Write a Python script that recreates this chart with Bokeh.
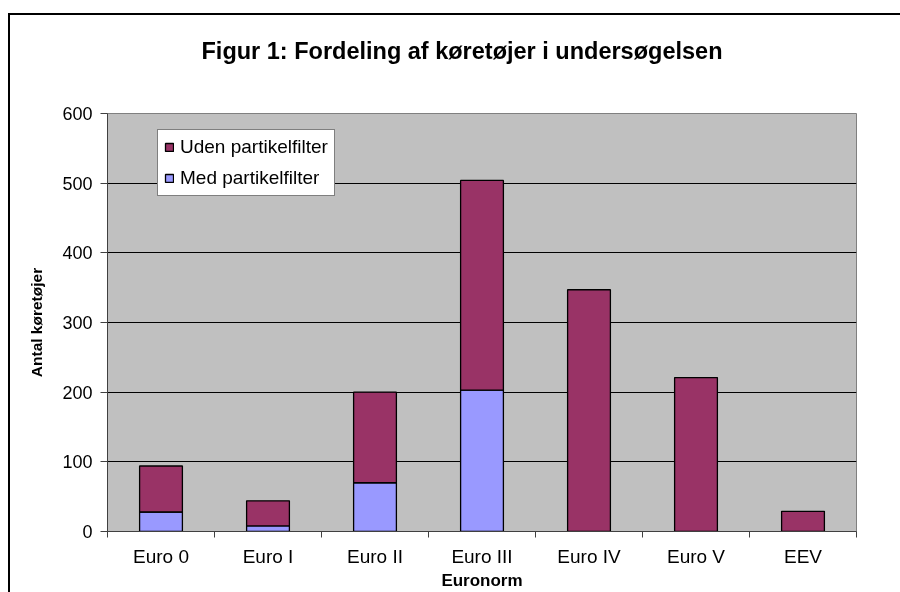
from bokeh.plotting import figure
from bokeh.models import (Range1d, FixedTicker, Legend, LegendItem, ColumnDataSource, Title)
from bokeh.embed import file_html
from bokeh.resources import INLINE

categories = ["Euro 0", "Euro I", "Euro II", "Euro III", "Euro IV", "Euro V", "EEV"]
med_filter = [28, 8, 70, 203, 0, 0, 0]
uden_filter = [66, 36, 130, 301, 347, 221, 29]
y_ticks = [0, 100, 200, 300, 400, 500, 600]

title_text = "Figur 1: Fordeling af køretøjer i undersøgelsen"
x_label = "Euronorm"
y_label = "Antal køretøjer"
series_names = ["Med partikelfilter", "Uden partikelfilter"]
colors = ["#9999FF", "#993366"]

n = len(categories)
xs = [i + 0.5 for i in range(n)]
source = ColumnDataSource(dict(x=xs, med=med_filter, uden=uden_filter))

p = figure(width=898, height=580, output_backend="svg", toolbar_location=None, tools="",
           x_range=Range1d(0, n), y_range=Range1d(0, 600),
           min_border_left=97, min_border_top=98, min_border_right=52, min_border_bottom=64,
           background_fill_color="#C0C0C0", border_fill_color="white",
           outline_line_color="#808080", outline_line_width=1)
p.toolbar.logo = None
p.styles = {"position": "fixed", "left": "10px", "top": "15px",
            "box-shadow": "-2px -2px 0px 0px black"}

r = p.vbar_stack(["med", "uden"], x="x", width=0.4, source=source, color=colors,
                 line_color="black", line_width=1.3)

# spacer between title and plot area
p.add_layout(Title(text=" ", text_font_size="10px", standoff=35), "above")

# Title
p.title.text = title_text
p.title.text_font = "Liberation Sans"
p.title.text_font_size = "23.5px"
p.title.text_font_style = "bold"
p.title.text_color = "black"
p.title.align = "left"
p.title.vertical_align = "top"
p.title.offset = 94
p.title.standoff = 0

# X axis
xa = p.xaxis[0]
xa.ticker = FixedTicker(ticks=xs, minor_ticks=list(range(n + 1)))
xa.major_label_overrides = {x: c for x, c in zip(xs, categories)}
xa.major_tick_line_color = None
xa.major_tick_out = 6
xa.major_tick_in = 0
xa.minor_tick_out = 6
xa.minor_tick_in = 0
xa.minor_tick_line_color = "#404040"
xa.axis_line_color = "#404040"
xa.major_label_text_font = "Liberation Sans"
xa.major_label_text_font_size = "19px"
xa.major_label_text_color = "black"
xa.major_label_standoff = 8
xa.axis_label = x_label
xa.axis_label_text_font = "Liberation Sans"
xa.axis_label_text_font_size = "17px"
xa.axis_label_text_font_style = "bold"
xa.axis_label_text_color = "black"
xa.axis_label_standoff = 1

# Y axis
ya = p.yaxis[0]
ya.ticker = FixedTicker(ticks=y_ticks)
ya.minor_tick_line_color = None
ya.major_tick_out = 7
ya.major_tick_in = 0
ya.major_tick_line_color = "#404040"
ya.axis_line_color = "#404040"
ya.major_label_text_font = "Liberation Sans"
ya.major_label_text_font_size = "18px"
ya.major_label_text_color = "black"
ya.major_label_standoff = 8
ya.axis_label = y_label
ya.axis_label_text_font = "Liberation Sans"
ya.axis_label_text_font_size = "15.5px"
ya.axis_label_text_font_style = "bold"
ya.axis_label_text_color = "black"
ya.axis_label_standoff = 14

# Grid
p.xgrid.grid_line_color = None
p.ygrid.ticker = FixedTicker(ticks=y_ticks[1:-1])
p.ygrid.grid_line_color = "black"
p.ygrid.grid_line_width = 1

legend = Legend(items=[LegendItem(label=series_names[1], renderers=[r[1]]),
                       LegendItem(label=series_names[0], renderers=[r[0]])],
                location=(50, 335), orientation="vertical",
                background_fill_color="white", background_fill_alpha=1,
                border_line_color="black", border_line_width=1,
                label_text_font="Liberation Sans", label_text_font_size="19px",
                label_text_color="black",
                glyph_width=10, glyph_height=10, label_standoff=6,
                padding=6, spacing=9, margin=0, label_height=22)
p.add_layout(legend)

open("out.html", "w").write(file_html(p, INLINE))
